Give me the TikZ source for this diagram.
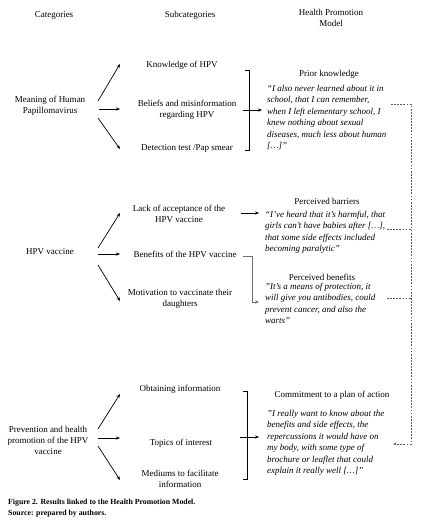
\documentclass[tikz,border=0pt]{standalone}
\usepackage{fontspec}
\setmainfont{Liberation Serif}
\usetikzlibrary{arrows.meta}
\definecolor{lgray}{RGB}{110,110,110}
\definecolor{dgray}{RGB}{90,90,90}
\begin{document}
\begin{tikzpicture}[x=1pt,y=-1pt,
  txt/.style={font=\fontsize{9}{11}\selectfont, align=center, inner sep=0pt},
  quote/.style={font=\fontsize{9}{11.4}\selectfont\itshape, align=left, inner sep=0pt, anchor=north west},
  capstyle/.style={font=\fontsize{7.8}{11}\selectfont\bfseries, inner sep=0pt, anchor=west},
  arr/.style={line width=0.7pt, -{Stealth[length=4pt,width=3.2pt]}},
  brk/.style={line width=0.7pt},
  grayarr/.style={line width=0.9pt, draw=lgray, -{Stealth[length=4pt,width=3.2pt]}},
  dsh/.style={line width=0.55pt, draw=dgray, dash pattern=on 1.8pt off 1.3pt}
]
\useasboundingbox (0,0) rectangle (436,526);
\fill[white] (0,0) rectangle (436,526);

% headers
\node[txt] (hcat) at (54,15) {Categories};
\node[txt] (hsub) at (190,15) {Subcategories};
\node[txt] (hhpm) at (331,17.5) {Health Promotion\\Model};

% categories
\node[txt] (cat1) at (50,105.5) {Meaning of Human\\Papillomavirus};
\node[txt] (cat2) at (50,252) {HPV vaccine};
\node[txt] (cat3) at (48,440) {Prevention and health\\promotion of the HPV\\vaccine};

% subcategories
\node[txt] (s11) at (182,65) {Knowledge of HPV};
\node[txt] (s12) at (187,109.5) {Beliefs and misinformation\\regarding HPV};
\node[txt] (s13) at (187,148) {Detection test /Pap smear};
\node[txt] (s21) at (179,214) {Lack of acceptance of the\\HPV vaccine};
\node[txt] (s22) at (185,254) {Benefits of the HPV vaccine};
\node[txt] (s23) at (180,298.5) {Motivation to vaccinate their\\daughters};
\node[txt] (s31) at (180,389) {Obtaining information};
\node[txt] (s32) at (181,443) {Topics of interest};
\node[txt] (s33) at (180,478.5) {Mediums to facilitate\\information};

% HPM labels
\node[txt] (h1) at (329,74) {Prior knowledge};
\node[txt] (h2) at (327,201) {Perceived barriers};
\node[txt] (h3) at (322,277) {Perceived benefits};
\node[txt] (h4) at (332,395) {Commitment to a plan of action};

% quotes
\node[quote] (q1) at (267,85) {“I also never learned about it in\\school, that I can remember,\\when I left elementary school, I\\knew nothing about sexual\\diseases, much less about human\\{[…]}”};
\node[quote] (q2) at (265,211) {“I've heard that it's harmful, that\\girls can't have babies after {[…]},\\that some side effects included\\becoming paralytic”};
\node[quote] (q3) at (265,283) {"It's a means of protection, it\\will give you antibodies, could\\prevent cancer, and also the\\warts"};
\node[quote] (q4) at (267,410) {"I really want to know about the\\benefits and side effects, the\\repercussions it would have on\\my body, with some type of\\brochure or leaflet that could\\explain it really well {[…]}”};

% fan arrows section 1
\coordinate (c1a) at (98,101); \coordinate (c1b) at (99,109); \coordinate (c1c) at (98,118);
\coordinate (e11) at (120,64); \coordinate (e12) at (120,109); \coordinate (e13) at (120,149);
\draw[arr] (c1a) -- (e11);
\draw[arr] (c1b) -- (e12);
\draw[arr] (c1c) -- (e13);

% fan arrows section 2
\coordinate (c2a) at (98,248); \coordinate (c2b) at (98,254); \coordinate (c2c) at (98,265);
\coordinate (e21) at (120,213); \coordinate (e22) at (120,254); \coordinate (e23) at (120,301);
\draw[arr] (c2a) -- (e21);
\draw[arr] (c2b) -- (e22);
\draw[arr] (c2c) -- (e23);

% fan arrows section 3
\coordinate (c3a) at (98,429); \coordinate (c3b) at (98,438); \coordinate (c3c) at (98,446);
\coordinate (e31) at (120,394); \coordinate (e32) at (120,438); \coordinate (e33) at (120,480);
\draw[arr] (c3a) -- (e31);
\draw[arr] (c3b) -- (e32);
\draw[arr] (c3c) -- (e33);

% bracket 1
\coordinate (b1t) at (245,70); \coordinate (b1b) at (245,150);
\draw[brk] (b1t) -- ++(4,0) |- (b1b);
\coordinate (b1m) at (243,110); \coordinate (b1e) at (262,110);
\draw[arr] (b1m) -- (b1e);

% section 2 connectors
\coordinate (l2s) at (241,213); \coordinate (l2e) at (259,213);
\draw[arr] (l2s) -- (l2e);
\coordinate (g2s) at (243,256); \coordinate (g2e) at (259,302);
\draw[grayarr] (g2s) -- ++(9,0) |- (g2e);

% bracket 3
\coordinate (b3t) at (243,391); \coordinate (b3b) at (243,479);
\draw[brk] (b3t) -- ++(4,0) |- (b3b);
\coordinate (b3m) at (240,437); \coordinate (b3e) at (259,437);
\draw[arr] (b3m) -- (b3e);

% dashed feedback
\coordinate (d1s) at (391,104); \coordinate (dcor) at (411,104);
\coordinate (d2s) at (387,229); \coordinate (d3s) at (387,298);
\coordinate (dend) at (393,444);
\draw[dsh, -{Stealth[length=3.5pt,width=2.8pt]}] (d1s) -- (dcor) |- (dend);
\draw[dsh] (d2s) -- (d2s -| dcor);
\draw[dsh] (d3s) -- (d3s -| dcor);

% caption
\node[capstyle] (cap1) at (8,503) {Figure 2. Results linked to the Health Promotion Model.};
\node[capstyle] (cap2) at (8,514) {Source: prepared by authors.};
\end{tikzpicture}
\end{document}
